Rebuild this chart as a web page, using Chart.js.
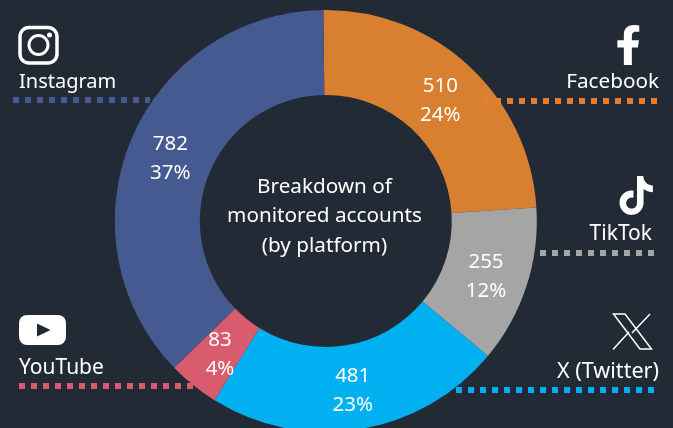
<!DOCTYPE html>
<html>
<head>
<meta charset="utf-8">
<style>
    html, body { margin: 0; padding: 0; width: 673px; height: 428px; overflow: hidden; background: #222a35; }
    canvas { display: block; }
</style>
<script src="https://cdn.jsdelivr.net/npm/chart.js@4"></script>
</head>
<body>
<canvas id="donut" width="673" height="442"></canvas>
<script>
const categories = ['Facebook', 'TikTok', 'X (Twitter)', 'YouTube', 'Instagram'];
const accounts = [510, 255, 481, 83, 782];
const shares = ['24%', '12%', '23%', '4%', '37%'];
const sliceColors = ['#d98030', '#a5a5a5', '#00b0f0', '#d95c6e', '#465a92'];
const lineColors = ['#e97c2e', '#a5a5a5', '#00b0f0', '#d95c6e', '#465a92'];
const centerLines = ['Breakdown of', 'monitored accounts', '(by platform)'];

// label position, right or left aligned, and the dotted line under it
const legendItems = [
    { x: 659, y: 82, size: 20.7, align: 'right', line: [483, 101, 657] },
    { x: 652, y: 234, size: 21, align: 'right', line: [540, 253, 654] },
    { x: 659, y: 372, size: 21.6, align: 'right', line: [456, 390, 654] },
    { x: 19, y: 368, size: 21, align: 'left', line: [19, 386, 193] },
    { x: 19, y: 82, size: 20, align: 'left', line: [13, 100, 150] }
];

const FONT = '"Noto Sans", sans-serif';
const BG = '#222a35';

function drawIcons(ctx) {
    ctx.save();
    ctx.fillStyle = '#fff';
    ctx.strokeStyle = '#fff';

    // instagram
    ctx.lineWidth = 3.5;
    ctx.beginPath();
    ctx.roundRect(20, 27.5, 37, 35.5, 9);
    ctx.stroke();
    ctx.lineWidth = 3;
    ctx.beginPath();
    ctx.arc(38.5, 45, 9.5, 0, Math.PI * 2);
    ctx.stroke();
    ctx.beginPath();
    ctx.arc(49.5, 35, 2.5, 0, Math.PI * 2);
    ctx.fill();

    // facebook
    ctx.save();
    ctx.translate(615.5, 25);
    ctx.scale(0.08, 0.078);
    ctx.fill(new Path2D('M279.14 288l14.22-92.66h-88.91v-60.13c0-25.35 12.42-50.06 52.24-50.06h40.42V6.26S260.43 0 225.36 0c-73.22 0-121.08 44.38-121.08 124.72v70.62H22.89V288h81.39v224h100.17V288z'));
    ctx.restore();

    // tiktok
    ctx.save();
    ctx.translate(617, 176);
    ctx.scale(1.6, 1.62);
    ctx.fill(new Path2D('M12.525.02c1.31-.02 2.61-.01 3.91-.02.08 1.53.63 3.09 1.75 4.17 1.12 1.11 2.7 1.62 4.24 1.79v4.03c-1.44-.05-2.89-.35-4.2-.97-.57-.26-1.1-.59-1.62-.93-.01 2.92.01 5.84-.02 8.75-.08 1.4-.54 2.79-1.35 3.94-1.31 1.92-3.58 3.17-5.91 3.21-1.43.08-2.86-.31-4.08-1.03-2.02-1.19-3.44-3.37-3.65-5.71-.02-.5-.03-1-.01-1.49.18-1.9 1.12-3.72 2.58-4.96 1.66-1.44 3.98-2.13 6.15-1.72.02 1.48-.04 2.96-.04 4.44-.99-.32-2.15-.23-3.02.37-.63.41-1.11 1.04-1.36 1.75-.21.51-.15 1.07-.14 1.61.24 1.64 1.82 3.02 3.5 2.87 1.12-.01 2.19-.66 2.77-1.61.19-.33.4-.67.41-1.06.1-1.79.06-3.57.07-5.36.01-4.03-.01-8.05.02-12.07z'));
    ctx.restore();

    // youtube
    ctx.beginPath();
    ctx.roundRect(19, 315, 47, 30, 8);
    ctx.fill();
    ctx.fillStyle = BG;
    ctx.beginPath();
    ctx.moveTo(37, 323.5);
    ctx.lineTo(50.5, 330);
    ctx.lineTo(37, 336.5);
    ctx.closePath();
    ctx.fill();

    // x
    ctx.lineWidth = 1.5;
    ctx.beginPath();
    ctx.moveTo(613.5, 314);
    ctx.lineTo(625, 314);
    ctx.lineTo(651.5, 349);
    ctx.lineTo(640, 349);
    ctx.closePath();
    ctx.moveTo(650, 314);
    ctx.lineTo(632, 333);
    ctx.moveTo(613, 349.5);
    ctx.lineTo(629, 332);
    ctx.stroke();
    ctx.restore();
}

const overlayPlugin = {
    id: 'overlay',
    afterDraw(chart) {
        const ctx = chart.ctx;
        const arcs = chart.getDatasetMeta(0).data;

        ctx.save();
        ctx.textBaseline = 'middle';
        ctx.fillStyle = '#fff';

        // dotted lines
        legendItems.forEach((item, i) => {
            ctx.strokeStyle = lineColors[i];
            ctx.lineWidth = 6;
            ctx.setLineDash([6, 6]);
            ctx.beginPath();
            ctx.moveTo(item.line[0], item.line[1]);
            ctx.lineTo(item.line[2], item.line[1]);
            ctx.stroke();
        });
        ctx.setLineDash([]);

        // value and share inside each slice
        ctx.font = '20.5px ' + FONT;
        ctx.textAlign = 'center';
        arcs.forEach((arc, i) => {
            const p = arc.tooltipPosition();
            ctx.fillText(accounts[i], p.x, p.y - 11.5);
            ctx.fillText(shares[i], p.x, p.y + 17.5);
        });

        // middle of the ring
        ctx.font = '20.7px ' + FONT;
        centerLines.forEach((line, i) => {
            ctx.fillText(line, 324.5, 187 + i * 29.5);
        });

        // platform names
        legendItems.forEach((item, i) => {
            ctx.font = item.size + 'px ' + FONT;
            ctx.textAlign = item.align;
            ctx.fillText(categories[i], item.x, item.y);
        });
        ctx.restore();

        drawIcons(ctx);
    }
};

new Chart(document.getElementById('donut'), {
    type: 'doughnut',
    data: {
        labels: categories,
        datasets: [{
            data: accounts,
            backgroundColor: sliceColors,
            borderWidth: 0
        }]
    },
    options: {
        responsive: false,
        animation: false,
        cutout: '59.7%',
        rotation: -0.67,
        layout: { padding: { left: 114.8, right: 136.2, top: 10, bottom: 10 } },
        plugins: {
            legend: { display: false },
            tooltip: { enabled: false }
        }
    },
    plugins: [overlayPlugin]
});
</script>
</body>
</html>
